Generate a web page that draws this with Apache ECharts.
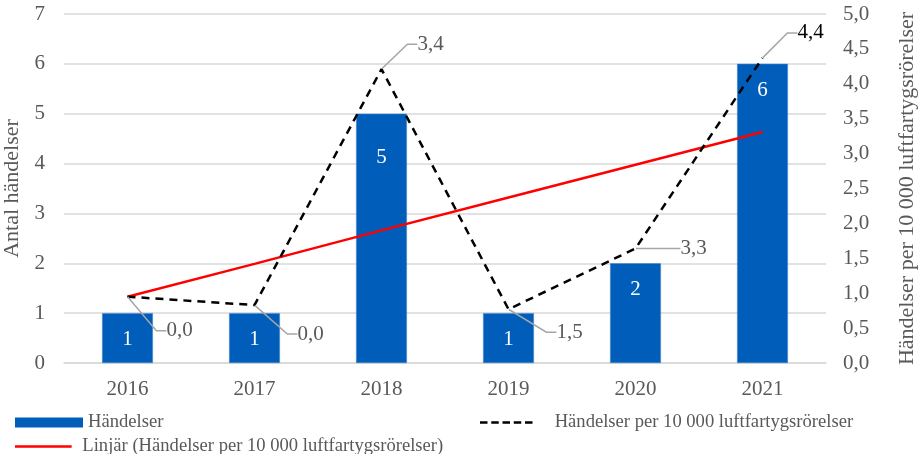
<!DOCTYPE html>
<html>
<head>
<meta charset="utf-8">
<script src="https://cdn.jsdelivr.net/npm/echarts@6/dist/echarts.min.js"></script>
<style>
  html, body { margin: 0; padding: 0; background: #fff; }
  #chart { width: 921px; height: 454px; }
</style>
</head>
<body>
<div id="chart"></div>
<script>
// ---- data ----
const years = ['2016', '2017', '2018', '2019', '2020', '2021'];
const events = [1, 1, 5, 1, 2, 6];                      // Händelser (left axis)
const ratePoints = [0.95, 0.83, 4.21, 0.77, 1.64, 4.37]; // plotted positions (right axis)
const rateLabels = ['0,0', '0,0', '3,4', '1,5', '3,3', '4,4']; // label texts as printed
const trend = [0.95, 1.42, 1.90, 2.37, 2.84, 3.31];      // Linjär trend (right axis)

const FONT = '"Liberation Serif", "Times New Roman", serif';
const GRAY = '#595959';
const BLUE = '#005DB9';

// label offsets (relative to each point)
const labelOffsets = [[52, 34], [56, 29], [49, -25], [61, 23], [58, 0], [48, -25]];

// legend icons: solid line and dashed line (5 dashes, then empty room) as paths
const SOLID_ICON = 'path://M0,0H68V3H0Z';
const DASH_ICON = 'path://M0,0H9V3H0Z M13.5,0H22.5V3H13.5Z M27,0H36V3H27Z M40.5,0H49.5V3H40.5Z M54,0H63V3H54Z M76,0V3';

const chart = echarts.init(document.getElementById('chart'));

const legendText = { fontFamily: FONT, fontSize: 18.6, color: GRAY };

const option = {
  animation: false,
  textStyle: { fontFamily: FONT },
  grid: { left: 64, right: 95, top: 14, bottom: 91, outerBoundsMode: 'none', containLabel: false },
  legend: [
    {
      data: [{ name: 'Händelser', icon: 'rect', itemStyle: { color: BLUE, borderWidth: 0 } }],
      left: 15, top: 413, padding: 0, itemWidth: 68, itemHeight: 10,
      textStyle: legendText
    },
    {
      data: [{ name: 'Händelser per 10 000 luftfartygsrörelser', icon: DASH_ICON, itemStyle: { color: '#000', borderWidth: 0 } }],
      left: 480, top: 413, padding: 0, itemWidth: 76, itemHeight: 2.5,
      textStyle: legendText
    },
    {
      data: [{ name: 'Linjär (Händelser per 10 000 luftfartygsrörelser)', icon: SOLID_ICON, itemStyle: { color: '#FF0000', borderWidth: 0 } }],
      left: 15, top: 437, padding: 0, itemWidth: 68, itemHeight: 2.5,
      textStyle: legendText
    }
  ],
  xAxis: {
    type: 'category',
    data: years,
    axisLine: { lineStyle: { color: '#D9D9D9', width: 1.5 } },
    axisTick: { show: false },
    axisLabel: { fontFamily: FONT, fontSize: 21, color: GRAY, margin: 16 }
  },
  yAxis: [
    {
      type: 'value', min: 0, max: 7, interval: 1,
      name: 'Antal händelser', nameLocation: 'middle', nameGap: 32, nameRotate: 90,
      nameTextStyle: { fontFamily: FONT, fontSize: 22, color: GRAY },
      axisLine: { show: false }, axisTick: { show: false },
      axisLabel: { fontFamily: FONT, fontSize: 21, color: GRAY, margin: 19 },
      splitLine: { lineStyle: { color: '#D9D9D9', width: 1.5 } }
    },
    {
      type: 'value', min: 0, max: 5, interval: 0.5,
      name: 'Händelser per 10 000 luftfartygsrörelser', nameLocation: 'middle', nameGap: 70, nameRotate: 90,
      nameTextStyle: { fontFamily: FONT, fontSize: 22, color: GRAY },
      axisLine: { show: false }, axisTick: { show: false },
      axisLabel: {
        fontFamily: FONT, fontSize: 21, color: GRAY, margin: 17,
        formatter: v => v.toFixed(1).replace('.', ',')
      },
      splitLine: { show: false }
    }
  ],
  series: [
    {
      name: 'Händelser',
      type: 'bar',
      yAxisIndex: 0,
      barWidth: '40%',
      data: events.map((v, i) => ({
        value: v,
        label: i === 2 ? { distance: 33 } : {}
      })),
      itemStyle: { color: BLUE, borderColor: '#3F86CF', borderWidth: 0.5 },
      label: {
        show: true, position: 'insideTop', distance: 16,
        color: '#fff', fontFamily: FONT, fontSize: 21
      },
      z: 1
    },
    {
      name: 'Händelser per 10 000 luftfartygsrörelser',
      type: 'line',
      yAxisIndex: 1,
      data: ratePoints.map((v, i) => ({
        value: v,
        label: { color: i === 5 ? '#000' : GRAY }
      })),
      symbol: 'circle',
      symbolSize: 1,
      itemStyle: { color: 'rgba(0,0,0,0)' },
      lineStyle: { color: '#000', width: 2.5, type: [8, 6] },
      label: {
        show: true, position: 'inside',
        fontFamily: FONT, fontSize: 21, padding: [0, 3],
        formatter: p => rateLabels[p.dataIndex]
      },
      labelLine: {
        show: true, length2: 10, minTurnAngle: 0,
        lineStyle: { color: '#A6A6A6', width: 1.5 }
      },
      labelLayout: p => ({ dx: labelOffsets[p.dataIndex][0], dy: labelOffsets[p.dataIndex][1] }),
      z: 3
    },
    {
      name: 'Linjär (Händelser per 10 000 luftfartygsrörelser)',
      type: 'line',
      yAxisIndex: 1,
      data: trend,
      symbol: 'none',
      itemStyle: { color: '#FF0000' },
      lineStyle: { color: '#FF0000', width: 2.5 },
      z: 2
    }
  ]
};

chart.setOption(option);
</script>
</body>
</html>
